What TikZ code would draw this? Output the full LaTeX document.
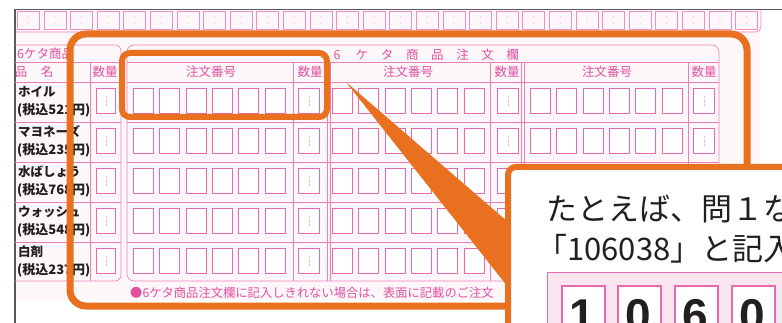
\documentclass[tikz,border=0pt]{standalone}
\usepackage{fontspec}
\usetikzlibrary{calc}
\newfontfamily\jp{Noto Sans CJK JP}
\newfontfamily\digitfont{Liberation Sans}
\definecolor{orng}{HTML}{E8701E}
\definecolor{pinkl}{HTML}{E86AAC}
\definecolor{pinkt}{HTML}{E2519F}
\definecolor{pinkf}{HTML}{FBE6F0}
\definecolor{tint}{HTML}{FDF7FA}
\definecolor{ink}{HTML}{231F20}
\begin{document}
\begin{tikzpicture}[x=1pt,y=-1pt,
  pline/.style={draw=pinkl!85, line width=0.6pt},
  cellbox/.style={draw=pinkl, line width=0.8pt, fill=white, minimum width=20pt, minimum height=25pt, inner sep=0pt, anchor=north west},
  qtybox/.style={cellbox, minimum width=21pt},
  toprowbox/.style={draw=pinkl!75, line width=0.6pt, minimum width=22pt, minimum height=18pt, anchor=north west, inner sep=0pt},
  pinktext/.style={text=pinkt, font=\jp\fontsize{12.5}{13}\selectfont, inner sep=0pt},
  nametext/.style={text=ink, font=\jp\bfseries\fontsize{12.5}{13}\selectfont, anchor=west, inner sep=0pt},
  pricetext/.style={text=ink, font=\jp\bfseries\fontsize{13}{14}\selectfont, anchor=west, inner sep=0pt},
  orangeframe/.style={draw=orng, line width=7pt, rounded corners=16pt},
  bigtext/.style={text=ink, font=\jp\fontsize{31}{33}\selectfont, anchor=west, inner sep=0pt},
  digit/.style={text=ink, font=\digitfont\bfseries\fontsize{46}{46}\selectfont, anchor=base, inner sep=0pt}
]
\clip (0,0) rectangle (782,323);
\fill[white] (0,0) rectangle (782,323);
\fill[tint] (15,10) rectangle (760,300);
% outer border of the form
\draw[gray!70!black, line width=1.2pt] (15,323) -- (15,9.5) -- (782,9.5);
% top row of boxes
\foreach \i in {0,...,27} {
  \node[toprowbox] (t\i) at ({17+26.6*\i},11) {};
  \fill[pinkl!50] ($(t\i.center)+(0,-3)$) circle (0.6pt);
  \fill[pinkl!50] ($(t\i.center)+(0,3)$) circle (0.6pt);
}
\draw[pline, rounded corners=5pt] (15,32) -- (761,32) -- (761,10);
% left table
\draw[pline, rounded corners=6pt] (15,45) -- (121,45) -- (121,281) -- (15,281);
\draw[pline] (15,62) -- (121,62) (15,82) -- (121,82) (90,62) -- (90,281);
\foreach \yy in {122,162,202,242} { \draw[pline] (15,\yy) -- (121,\yy); }
\node[pinktext, anchor=west] (lh) at (17,54) {6ケタ商品};
\node[pinktext] (lh1) at (21,72) {品};
\node[pinktext] (lh2) at (47,72) {名};
\node[pinktext] (lq) at (105,72) {数量};
\foreach \nm/\pr [count=\r from 0] in {ホイル/(税込521円), マヨネーズ/(税込235円), 水ばしょう/(税込768円), ウォッシュ/(税込548円), 白剤/(税込237円)} {
  \node[nametext] (ln\r) at (18,{92+40*\r}) {\nm};
  \node[pricetext] (lp\r) at (17,{110+40*\r}) {\pr};
  \node[qtybox, minimum width=19pt] (lqb\r) at (96,{88+40*\r}) {};
  \draw[pinkl!50, densely dotted, line width=0.6pt] ($(lqb\r.center)+(0,-5)$) -- ($(lqb\r.center)+(0,5)$);
}
% main table
\draw[pline, rounded corners=7pt] (127,281) -- (127,45) -- (719,45) -- (719,281) -- cycle;
\draw[pline] (127,62) -- (719,62) (127,82) -- (719,82);
\foreach \xx in {293,327,330,490,521,524,688} { \draw[pline] (\xx,62) -- (\xx,281); }
\foreach \yy in {122,162,202,242} { \draw[pline] (127,\yy) -- (719,\yy); }
\foreach \ch [count=\k from 0] in {6,ケ,タ,商,品,注,文,欄} {
  \node[pinktext] (hd\k) at ({337+25.1*\k},55) {\ch};
}
\foreach \g/\cx/\qx in {1/211/310, 2/408/507, 3/607/704} {
  \node[pinktext] (hn\g) at (\cx,72) {注文番号};
  \node[pinktext] (hq\g) at (\qx,72) {数量};
}
\foreach \g/\s/\q in {1/133/298, 2/332/497, 3/530/693} {
  \foreach \r in {0,...,4} {
    \foreach \c in {0,...,5} {
      \node[cellbox] (g\g r\r c\c) at ({\s+26.3*\c},{88+40*\r}) {};
    }
    \node[qtybox] (q\g r\r) at (\q,{88+40*\r}) {};
    \draw[pinkl!50, densely dotted, line width=0.6pt] ($(q\g r\r.center)+(0,-5)$) -- ($(q\g r\r.center)+(0,5)$);
  }
}
\node[pinktext, anchor=west, font=\jp\fontsize{12.3}{13}\selectfont] (fn) at (130,293) {●6ケタ商品注文欄に記入しきれない場合は、表面に記載のご注文};
% orange highlight frames
\draw[orangeframe] (70,34) rectangle (747,306);
\draw[draw=orng, line width=6pt, rounded corners=8pt] (122,53) rectangle (327,117);
\coordinate (tip) at (346,82);
\coordinate (wa) at (508,222);
\coordinate (wb) at (508,287);
\fill[orng, rounded corners=3pt] (tip) -- (wa) -- (wb) -- cycle;
% callout
\node[draw=orng, line width=6pt, fill=white, rounded corners=8pt, minimum width=330pt, minimum height=200pt, anchor=north west, inner sep=0pt] (callout) at (505,164) {};
\node[bigtext] (l1) at (546,209) {たとえば、問１な};
\node[bigtext] (l2) at (536,249) {「106038」と記入};
\node[fill=pinkf, draw=pinkl, line width=1pt, minimum width=300pt, minimum height=80pt, anchor=north west, inner sep=0pt] (panel) at (547,272) {};
\foreach \d/\xx [count=\k] in {1/561, 0/617, 6/674, 0/731} {
  \node[draw=pinkl, line width=1.5pt, fill=white, minimum width=43pt, minimum height=60pt, anchor=north west, inner sep=0pt] (db\k) at (\xx,285) {};
  \node[digit] (dg\k) at ({\xx+21.5},331) {\d};
}
\end{tikzpicture}
\end{document}
